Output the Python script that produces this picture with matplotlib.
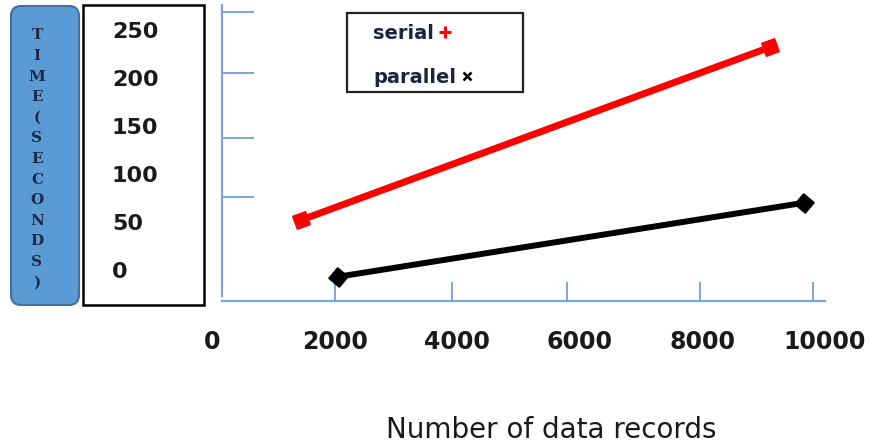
import matplotlib
matplotlib.use("Agg")
import matplotlib.pyplot as plt
import matplotlib.transforms as mtransforms
from matplotlib.patches import FancyBboxPatch, Rectangle
from matplotlib.lines import Line2D

# data
serial_x = [1450, 9100]
serial_y = [54, 234]
parallel_x = [2050, 9650]
parallel_y = [-5, 72]

x_labels = [0, 2000, 4000, 6000, 8000, 10000]
y_labels = [0, 50, 100, 150, 200, 250]
# the hand-drawn tick marks do not sit on the labels
x_tick_marks = [2006, 3915, 5791, 7961, 9804]
y_tick_marks = [78, 140, 207, 271]

ylabel_letters = list("TIME(SECONDS)")
axis_blue = "#7aa6dc"

W, H = 885, 446
fig = plt.figure(figsize=(W / 100, H / 100), dpi=100)
fig.patch.set_facecolor("white")

# main axes (pixel box: x 222..825, y 5..301)
ax = fig.add_axes([222 / W, (H - 301) / H, (825 - 222) / W, (301 - 5) / H])
ax.set_xlim(163, 10000)
ax.set_ylim(-30.2, 278)
ax.set_facecolor("none")

for s in ["top", "right"]:
    ax.spines[s].set_visible(False)
for s in ["left", "bottom"]:
    ax.spines[s].set_color(axis_blue)
    ax.spines[s].set_linewidth(1.6)
ax.spines["left"].set_bounds(-25, 278)

ax.set_xticks(x_tick_marks)
ax.set_yticks(y_tick_marks)
ax.tick_params(axis="x", direction="in", length=14, width=1.4, color=axis_blue,
               labelbottom=False)
ax.tick_params(axis="y", direction="in", length=23, width=1.4, color=axis_blue,
               labelleft=False)

# series
ax.plot(serial_x, serial_y, color="#ff0000", lw=5, marker=(4, 0, 65),
        markersize=14, solid_capstyle="butt", zorder=3)
ax.plot(parallel_x, parallel_y, color="black", lw=4.3, marker=(4, 0, 5),
        markersize=14, solid_capstyle="butt", zorder=3)

# x labels below the axis
for v in x_labels:
    ax.text(v, -0.138, str(v), transform=ax.get_xaxis_transform(),
            ha="center", va="center", fontsize=17, fontweight="bold",
            color="#1a1a1a", clip_on=False)

# y labels in the white box
ytrans = mtransforms.blended_transform_factory(fig.transFigure, ax.transData)
for v in y_labels:
    ax.text(112 / W, v, str(v), transform=ytrans, ha="left", va="center",
            fontsize=16, fontweight="bold", color="#1a1a1a", clip_on=False)

# blue rounded label box and white box (behind the axes)
blue_box = FancyBboxPatch((0.11, (H - 305) / 100), 0.68, 2.99,
                          boxstyle="round,pad=0,rounding_size=0.1",
                          transform=fig.dpi_scale_trans, facecolor="#5b9bd5",
                          edgecolor="#41719c", linewidth=1.5, zorder=-2)
fig.patches.append(blue_box)
white_box = Rectangle((0.83, (H - 305) / 100), 1.21, 3.0,
                      transform=fig.dpi_scale_trans, facecolor="white",
                      edgecolor="black", linewidth=1.8, zorder=-2)
fig.patches.append(white_box)

fig.text(37 / W, 1 - 159 / H, "\n".join(ylabel_letters), ha="center",
         va="center", ma="center", fontsize=11, fontweight="bold",
         family="DejaVu Serif", color="#1c2a48", linespacing=1.6)

fig.text(551 / W, 1 - 430 / H, "Number of data records", ha="center",
         va="center", fontsize=20, color="#1a1a1a")

# legend frame drawn by hand, legend content without its own frame
legend_frame = Rectangle((3.47, (H - 92) / 100), 1.76, 0.79,
                         transform=fig.dpi_scale_trans, facecolor="white",
                         edgecolor="#222222", linewidth=1.6, zorder=-1)
fig.patches.append(legend_frame)

handles = [
    Line2D([], [], color="#ff0000", marker="+", linestyle="none",
           markersize=8, markeredgewidth=2.2),
    Line2D([], [], color="black", marker="x", linestyle="none",
           markersize=5.5, markeredgewidth=1.8),
]
leg = fig.legend(handles, ["serial", "parallel"], loc="upper left",
                 bbox_to_anchor=(373 / W, 1 - 24 / H),
                 bbox_transform=fig.transFigure, frameon=False,
                 markerfirst=False, handlelength=0.6, handletextpad=0.25,
                 borderpad=0, labelspacing=1.29, borderaxespad=0,
                 labelcolor="#1f2240", prop={"weight": "bold", "size": 14})
# keep the labels left aligned even though the marker comes after the text
for col in leg._legend_handle_box.get_children():
    col.align = "left"

fig.savefig("out.png", dpi=100)
